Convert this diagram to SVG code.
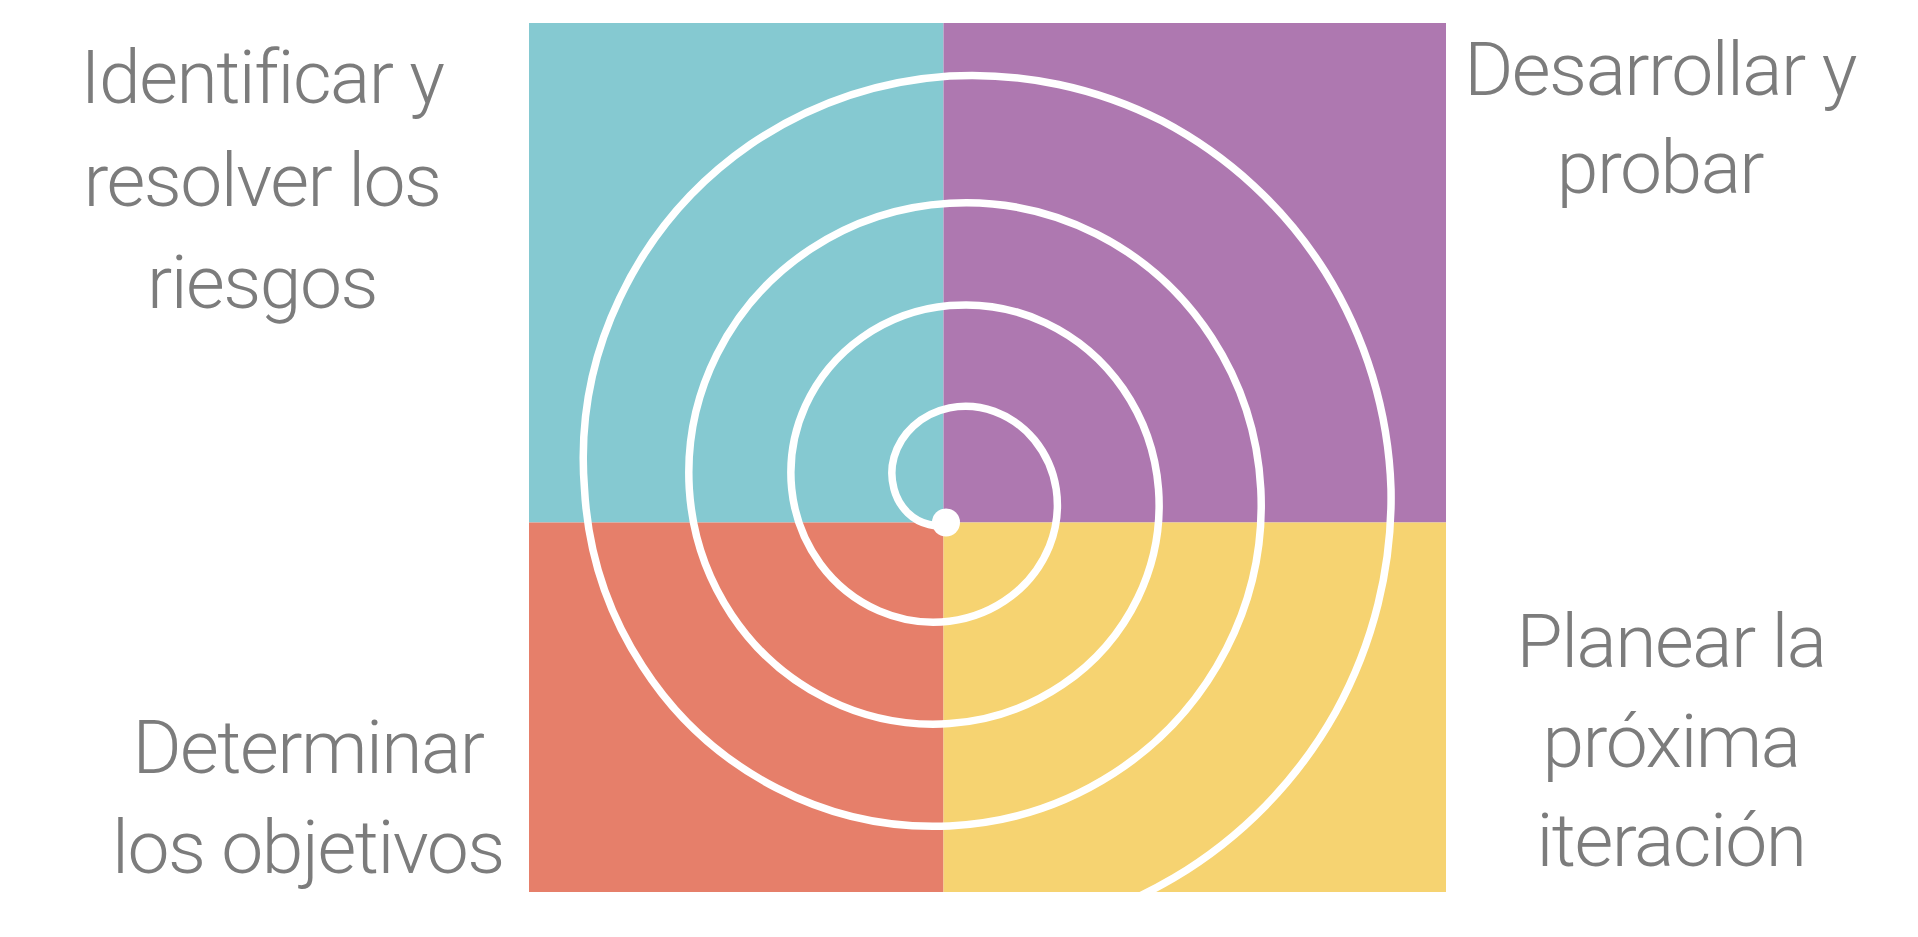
<svg xmlns="http://www.w3.org/2000/svg" width="1918" height="937" viewBox="0 0 1918 937">
  <style>
    .lbl { font-family: Roboto, "Liberation Sans", sans-serif; font-weight: 300; font-size: 75px; letter-spacing: -1.5px; fill: #7c7c7c; text-anchor: middle; }
    .spiral { fill: none; stroke: #ffffff; stroke-width: 7.5; stroke-linecap: round; stroke-linejoin: round; }
  </style>
  <defs>
    <clipPath id="board">
      <rect x="529" y="23" width="917" height="869"/>
    </clipPath>
  </defs>
  <rect width="1918" height="937" fill="#ffffff"/>
  <g id="quadrants">
    <rect id="q-riesgos" x="529" y="23" width="414.5" height="499.5" fill="#85C9D1"/>
    <rect id="q-desarrollar" x="943.5" y="23" width="502.5" height="499.5" fill="#AE78B0"/>
    <rect id="q-objetivos" x="529" y="522.5" width="414.5" height="369.5" fill="#E67F6A"/>
    <rect id="q-planear" x="943.5" y="522.5" width="502.5" height="369.5" fill="#F6D371"/>
  </g>
  <g id="spiral" clip-path="url(#board)">
    <path class="spiral" d="M 949.5 524 A 38 38 0 0 1 929 524.5 A 44.5 44.5 0 0 1 907.9 513 A 52 52 0 0 1 894 489 A 60 60 0 0 1 894.05 457 A 68.3 68.3 0 0 1 913.2 426.2 A 76.8 76.8 0 0 1 949.5 407.9 A 85.3 85.3 0 0 1 994.3 411.4 A 93.9 93.9 0 0 1 1034.5 440 A 102.4 102.4 0 0 1 1056.2 489 A 111 111 0 0 1 1049.3 546.6 A 119.5 119.5 0 0 1 1011.4 596.1 A 128 128 0 0 1 949.5 621.3 A 136.5 136.5 0 0 1 879.1 610.9 A 145 145 0 0 1 820.2 563.7 A 153.5 153.5 0 0 1 791.7 489 A 162.1 162.1 0 0 1 805.4 405.8 A 170.6 170.6 0 0 1 862.05 337.5 A 179.1 179.1 0 0 1 949.5 305.6 A 187.7 187.7 0 0 1 1045.45 322.8 A 196.2 196.2 0 0 1 1123.1 388.75 A 204.7 204.7 0 0 1 1158.5 489 A 213.2 213.2 0 0 1 1137.9 597.75 A 221.8 221.8 0 0 1 1062.5 684.7 A 230.3 230.3 0 0 1 949.5 723.6 A 238.8 238.8 0 0 1 827.95 699.5 A 247.4 247.4 0 0 1 731.6 614.8 A 255.9 255.9 0 0 1 689.3 489 A 264.4 264.4 0 0 1 716.8 354.65 A 273 273 0 0 1 810.9 248.9 A 281.5 281.5 0 0 1 949.5 203.3 A 290 290 0 0 1 1096.65 234.1 A 298.5 298.5 0 0 1 1211.7 337.6 A 307 307 0 0 1 1260.8 489 A 315.6 315.6 0 0 1 1226.45 648.9 A 324.1 324.1 0 0 1 1113.7 773.4 A 332.6 332.6 0 0 1 949.5 825.9 A 341.2 341.2 0 0 1 776.8 788.1 A 349.9 349.9 0 0 1 642.5 666.25 A 359.8 359.8 0 0 1 584.5 489 A 373 373 0 0 1 619.55 298.5 A 389.5 389.5 0 0 1 750.5 144.3 A 405.5 405.5 0 0 1 949.5 76 A 419 419 0 0 1 1162 120.95 A 429.5 429.5 0 0 1 1325.35 272 A 437.8 437.8 0 0 1 1391 489 A 443.7 443.7 0 0 1 1335.7 712 A 447.5 447.5 0 0 1 1174 877.8 A 450 450 0 0 1 949.5 940"/>
    <circle cx="946" cy="522.5" r="14" fill="#ffffff"/>
  </g>
  <g id="label-riesgos">
    <text class="lbl" x="262" y="103">Identificar y</text>
    <text class="lbl" x="262" y="206">resolver los</text>
    <text class="lbl" x="262" y="308">riesgos</text>
  </g>
  <g id="label-desarrollar">
    <text class="lbl" x="1660" y="95">Desarrollar y</text>
    <text class="lbl" x="1660" y="193">probar</text>
  </g>
  <g id="label-objetivos">
    <text class="lbl" x="308" y="773">Determinar</text>
    <text class="lbl" x="308" y="873">los objetivos</text>
  </g>
  <g id="label-planear">
    <text class="lbl" x="1671" y="667">Planear la</text>
    <text class="lbl" x="1671" y="767">próxima</text>
    <text class="lbl" x="1671" y="866">iteración</text>
  </g>
</svg>
